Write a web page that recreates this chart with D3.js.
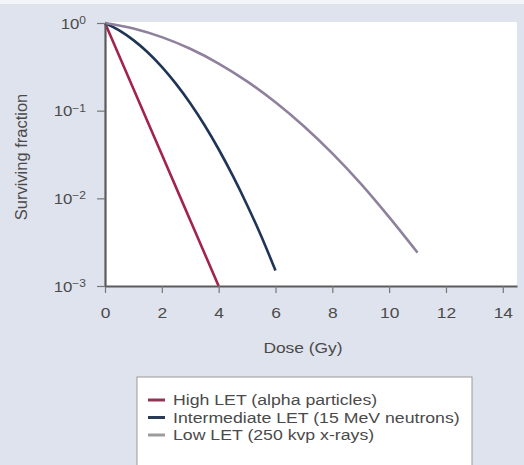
<!DOCTYPE html>
<html>
<head>
<meta charset="utf-8">
<script src="https://cdn.jsdelivr.net/npm/d3@7"></script>
<style>
  body { margin: 0; background: #dfe3ed; }
  svg { display: block; font-family: "Liberation Sans", Arial, sans-serif; }
</style>
</head>
<body>
<div id="chart"></div>
<script>
// Dose (Gy) and surviving fraction
const highDose = [0, 1, 2, 3, 4];
const highSurv = [1, 0.178, 0.0316, 0.00562, 0.001];

const midDose = [0, 0.5, 1, 1.5, 2, 2.5, 3, 3.5, 4, 4.5, 5, 5.5, 6];
const midSurv = [1, 0.824, 0.638, 0.464, 0.316, 0.202, 0.1216, 0.0686, 0.0363, 0.018, 0.0084, 0.0037, 0.0015];

const lowDose = [0, 1, 2, 3, 4, 5, 6, 7, 8, 9, 10, 11];
const lowSurv = [1, 0.865, 0.69, 0.508, 0.345, 0.216, 0.1245, 0.0663, 0.0325, 0.0147, 0.0061, 0.0024];

const seriesNames = ["High LET (alpha particles)", "Intermediate LET (15 MeV neutrons)", "Low LET (250 kvp x-rays)"];
const seriesColors = ["#a3234f", "#1f3557", "#8f819d"];
const legendColors = ["#8e3556", "#2b3a55", "#9c9c9c"];

const xTicks = [0, 2, 4, 6, 8, 10, 12, 14];
const yTicks = [1, 0.1, 0.01, 0.001];
const yTickExp = ["0", "\u22121", "\u22122", "\u22123"];

const width = 524;
const height = 465;
const stretch = 1.2; // the source picture is a little wider than tall

const svg = d3.select("#chart")
  .append("svg")
  .attr("width", width)
  .attr("height", height);

// top light strip
svg.append("rect")
  .attr("x", 0).attr("y", 0)
  .attr("width", width).attr("height", 4)
  .attr("fill", "#f4f5f8");

// scales
const x = d3.scaleLinear().domain([0, 14.5]).range([105, 517]);
const y = d3.scaleLog().domain([0.001, 1]).range([286, 23]);

// white plot panel
svg.append("rect")
  .attr("x", x(0))
  .attr("y", 22)
  .attr("width", x(14.5) - x(0))
  .attr("height", y(0.001) - 22)
  .attr("fill", "#ffffff");

// curves
const line = d3.line()
  .x(d => x(d[0]))
  .y(d => y(d[1]))
  .curve(d3.curveMonotoneX);

const series = [
  d3.zip(highDose, highSurv),
  d3.zip(midDose, midSurv),
  d3.zip(lowDose, lowSurv)
];

svg.selectAll(".curve")
  .data(series)
  .enter()
  .append("path")
  .attr("class", "curve")
  .attr("d", line)
  .attr("fill", "none")
  .attr("stroke", (d, i) => seriesColors[i])
  .attr("stroke-width", 2.6);

// x axis
const xAxis = svg.append("g")
  .attr("transform", `translate(0, ${y(0.001)})`)
  .call(d3.axisBottom(x).tickValues(xTicks).tickSize(7).tickSizeOuter(0).tickPadding(15));
xAxis.select(".domain").attr("stroke", "#5a5a5a").attr("stroke-width", 2.2);
xAxis.selectAll(".tick line").attr("stroke", "#777").attr("stroke-width", 1.2);
xAxis.selectAll(".tick text")
  .attr("fill", "#4a4a4a")
  .attr("transform", `scale(${stretch},1)`)
  .style("font-size", "14.5px");

// y axis
const yAxis = svg.append("g")
  .attr("transform", `translate(${x(0)}, 0)`)
  .call(d3.axisLeft(y).tickValues(yTicks).tickSize(8).tickSizeOuter(0).tickFormat(""));
yAxis.select(".domain").attr("stroke", "#5a5a5a").attr("stroke-width", 2.2);
yAxis.selectAll(".tick line").attr("stroke", "#777").attr("stroke-width", 1.2);

const yLab = yAxis.selectAll(".tick text")
  .attr("fill", "#4a4a4a")
  .attr("x", -19 / stretch)
  .attr("dy", "0.36em")
  .attr("transform", `scale(${stretch},1)`)
  .style("font-size", "14px");
yLab.append("tspan").text("10");
yLab.append("tspan")
  .attr("dy", "-0.45em")
  .style("font-size", "10px")
  .text((d, i) => yTickExp[i]);

// axis titles
svg.append("text")
  .attr("transform", `translate(303, 353) scale(${stretch},1)`)
  .attr("text-anchor", "middle")
  .attr("fill", "#4a4a4a")
  .style("font-size", "14.5px")
  .text("Dose (Gy)");

svg.append("text")
  .attr("transform", "rotate(-90)")
  .attr("x", -157)
  .attr("y", 27)
  .attr("text-anchor", "middle")
  .attr("fill", "#4a4a4a")
  .style("font-size", "16.5px")
  .text("Surviving fraction");

// legend
const legend = svg.append("g").attr("transform", "translate(137, 377)");
legend.append("rect")
  .attr("x", 0).attr("y", 0)
  .attr("width", 335).attr("height", 100)
  .attr("fill", "#ffffff")
  .attr("stroke", "#9a9a9a")
  .attr("stroke-width", 1);

const item = legend.selectAll(".item")
  .data(seriesNames)
  .enter()
  .append("g")
  .attr("class", "item")
  .attr("transform", (d, i) => `translate(0, ${23 + i * 17.5})`);
item.append("line")
  .attr("x1", 11).attr("x2", 28)
  .attr("stroke", (d, i) => legendColors[i])
  .attr("stroke-width", 3);
item.append("text")
  .attr("transform", "translate(36, 0) scale(1.18,1)")
  .attr("dy", "0.35em")
  .attr("fill", "#4a4a4a")
  .style("font-size", "15px")
  .text(d => d);
</script>
</body>
</html>
